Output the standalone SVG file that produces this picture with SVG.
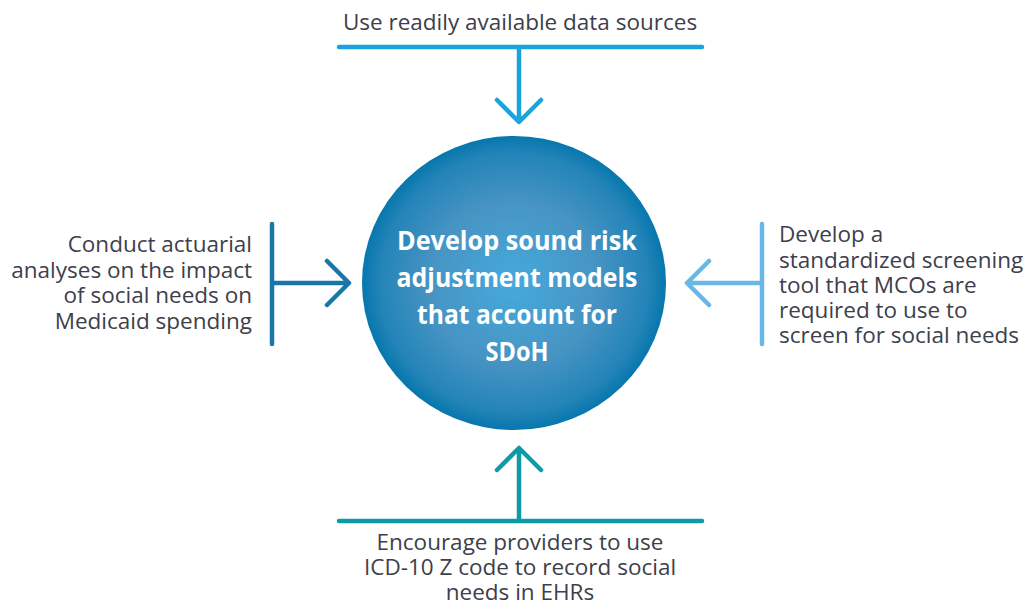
<svg xmlns="http://www.w3.org/2000/svg" width="1028" height="605" viewBox="0 0 1028 605">
  <defs>
    <radialGradient id="hubFill" cx="0.5" cy="0.5" r="0.5">
      <stop offset="0" stop-color="#45aadc"/>
      <stop offset="0.55" stop-color="#4794c3"/>
      <stop offset="0.88" stop-color="#2484b8"/>
      <stop offset="1" stop-color="#0677ad"/>
    </radialGradient>
    <style>
      .label { font-family: "Open Sans", "Liberation Sans", sans-serif; font-size: 22.5px; fill: #3d404b; }
      .hub-text { font-family: "Open Sans", "Liberation Sans", sans-serif; font-size: 27px; font-weight: bold; fill: #ffffff; text-anchor: middle; }
      .link { fill: none; stroke-width: 4.5; stroke-linecap: round; stroke-linejoin: round; }
      .top { stroke: #1ba3dd; }
      .left { stroke: #1a76a8; }
      .right { stroke: #68b7e4; }
      .bottom { stroke: #0f9aa8; }
    </style>
  </defs>

  <!-- connectors: bars, stems and chevron heads -->
  <g id="connectors">
    <path class="link top" d="M339 47 H702 M519 47 V121 M497 100 L519 122 L541 100"/>
    <path class="link left" d="M272 224 V344 M272 283 H348 M327 261 L349 283 L327 305"/>
    <path class="link right" d="M762 224 V344 M762 283 H687 M709 261 L687 283 L709 305"/>
    <path class="link bottom" d="M339 521 H702 M519 521 V449 M497 470 L519 448 L541 470"/>
  </g>

  <g id="hub">
    <ellipse cx="514" cy="283" rx="152" ry="147" fill="url(#hubFill)"/>
    <text class="hub-text" x="517" y="250" textLength="240" lengthAdjust="spacingAndGlyphs">Develop sound risk</text>
    <text class="hub-text" x="517" y="287" textLength="241" lengthAdjust="spacingAndGlyphs">adjustment models</text>
    <text class="hub-text" x="517" y="324" textLength="200" lengthAdjust="spacingAndGlyphs">that account for</text>
    <text class="hub-text" x="517" y="361" textLength="63" lengthAdjust="spacingAndGlyphs">SDoH</text>
  </g>

  <g id="node-top">
    <text class="label" x="520" y="30" text-anchor="middle">Use readily available data sources</text>
  </g>

  <g id="node-left">
    <text class="label" text-anchor="end"><tspan x="252" y="252">Conduct actuarial</tspan><tspan x="252" y="277.5">analyses on the impact</tspan><tspan x="252" y="303">of social needs on</tspan><tspan x="252" y="328.5">Medicaid spending</tspan></text>
  </g>

  <g id="node-right">
    <text class="label"><tspan x="779" y="242">Develop a</tspan><tspan x="779" y="267.5">standardized screening</tspan><tspan x="779" y="293">tool that MCOs are</tspan><tspan x="779" y="318">required to use to</tspan><tspan x="779" y="343">screen for social needs</tspan></text>
  </g>

  <g id="node-bottom">
    <text class="label" text-anchor="middle"><tspan x="520" y="550">Encourage providers to use</tspan><tspan x="520" y="575">ICD-10 Z code to record social</tspan><tspan x="520" y="600">needs in EHRs</tspan></text>
  </g>
</svg>
